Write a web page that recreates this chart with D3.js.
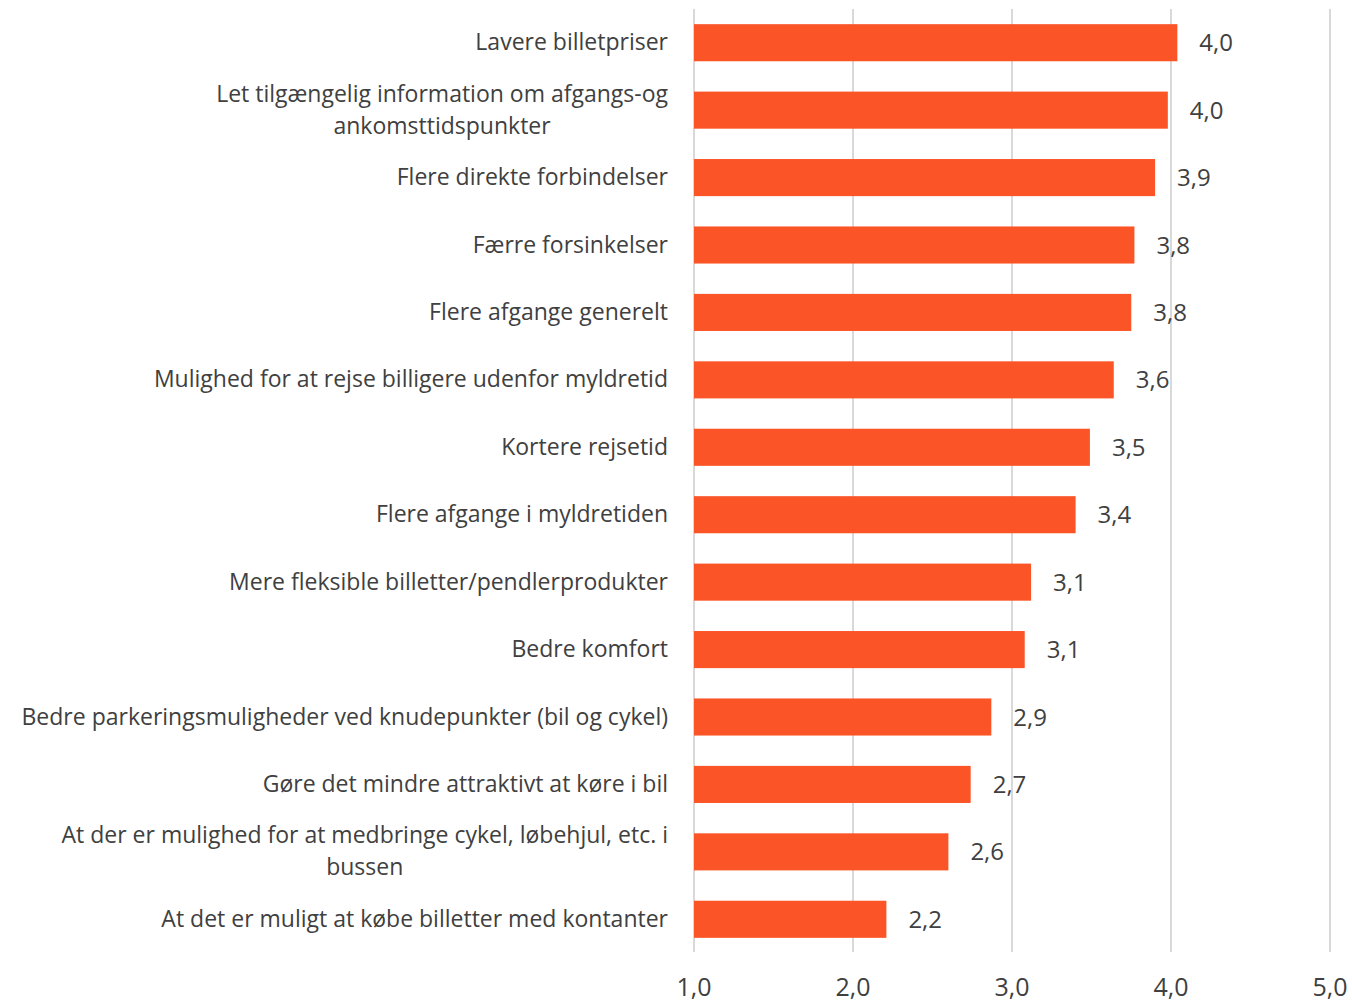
<!DOCTYPE html>
<html><head><meta charset="utf-8">
<script src="https://cdn.jsdelivr.net/npm/d3@7"></script>
<style>body{margin:0;background:#fff;} text{font-family:"Open Sans",sans-serif;fill:#404040;}</style>
</head><body>
<svg id="c" width="1352" height="1003"></svg>
<script>
const categories = [
  ["Lavere billetpriser"],
  ["Let tilgængelig information om afgangs-og", "ankomsttidspunkter"],
  ["Flere direkte forbindelser"],
  ["Færre forsinkelser"],
  ["Flere afgange generelt"],
  ["Mulighed for at rejse billigere udenfor myldretid"],
  ["Kortere rejsetid"],
  ["Flere afgange i myldretiden"],
  ["Mere fleksible billetter/pendlerprodukter"],
  ["Bedre komfort"],
  ["Bedre parkeringsmuligheder ved knudepunkter (bil og cykel)"],
  ["Gøre det mindre attraktivt at køre i bil"],
  ["At der er mulighed for at medbringe cykel, løbehjul, etc. i", "bussen"],
  ["At det er muligt at købe billetter med kontanter"]
];
const values = [4.04, 3.98, 3.90, 3.77, 3.75, 3.64, 3.49, 3.40, 3.12, 3.08, 2.87, 2.74, 2.60, 2.21];
const ticks = [1, 2, 3, 4, 5];
const fmt = v => d3.format(".1f")(v).replace(".", ",");

const svg = d3.select("#c");
const x = d3.scaleLinear().domain([1, 5]).range([694, 1330]);
const y = d3.scaleBand().domain(d3.range(categories.length)).range([9, 953]).paddingInner(0.45).paddingOuter(0.225);

// gridlines
svg.append("g").selectAll("line").data(ticks).join("line")
  .attr("x1", d => x(d)).attr("x2", d => x(d))
  .attr("y1", 9).attr("y2", 952)
  .attr("stroke", "#d9d9d9").attr("stroke-width", 2);

// bars
svg.append("g").selectAll("rect").data(values).join("rect")
  .attr("x", x(1)).attr("y", (d, i) => y(i))
  .attr("width", d => x(d) - x(1)).attr("height", y.bandwidth())
  .attr("fill", "#FB5427");

// value labels
svg.append("g").selectAll("text").data(values).join("text")
  .attr("x", d => x(d) + 22).attr("y", (d, i) => y(i) + y.bandwidth() / 2)
  .attr("dy", "0.36em").attr("font-size", 24)
  .text(d => fmt(d));

// category labels
const lg = svg.append("g");
categories.forEach((lines, i) => {
  const cy = y(i) + y.bandwidth() / 2;
  const lh = 32;
  const g = lg.append("g");
  const ts = lines.map((l, k) => g.append("text")
    .attr("font-size", 23)
    .attr("y", cy + (k - (lines.length - 1) / 2) * lh)
    .attr("dy", "0.33em").text(l));
  const widths = ts.map(t => t.node().getComputedTextLength());
  const maxW = d3.max(widths);
  ts.forEach((t, k) => t.attr("x", 668 - maxW / 2).attr("text-anchor", "middle"));
});

// x axis tick labels
svg.append("g").selectAll("text").data(ticks).join("text")
  .attr("x", d => x(d)).attr("y", 996)
  .attr("text-anchor", "middle").attr("font-size", 25)
  .text(d => fmt(d));
</script>
</body></html>
